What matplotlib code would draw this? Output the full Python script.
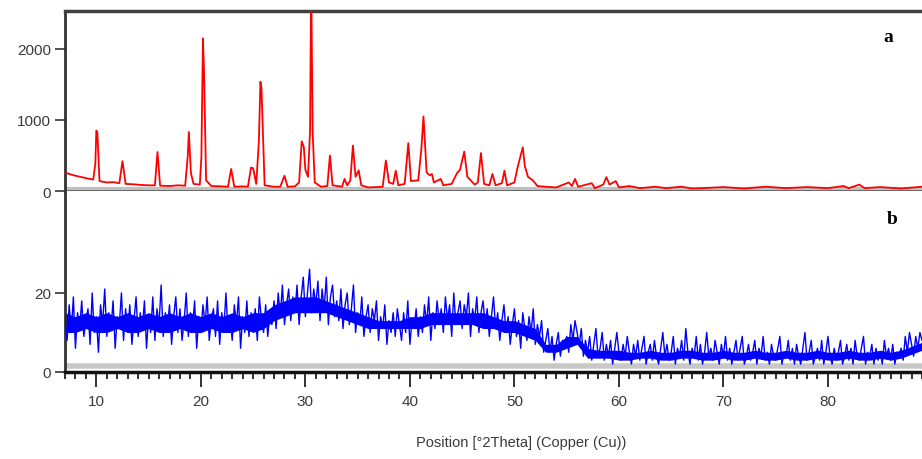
# Difractogramas XRD: (a) muestra cristalina, (b) muestra amorfa.
import numpy as np
import matplotlib; matplotlib.use("Agg")
import matplotlib.pyplot as plt

plt.rcParams["font.family"] = ["Liberation Sans", "DejaVu Sans"]

tt_a = [7.0, 7.5, 8.0, 8.6, 9.2, 9.7, 9.9, 10.0, 10.1, 10.3, 11.0, 11.6, 12.2, 12.5, 12.8,
        13.5, 14.3, 15.0, 15.6, 15.85, 16.1, 17.0, 17.8, 18.5, 18.75, 18.85, 19.05, 19.3,
        19.9, 20.05, 20.2, 20.3, 20.5, 21.0, 22.0, 22.6, 22.9, 23.2, 24.0, 24.5, 24.8, 25.0,
        25.3, 25.55, 25.7, 25.8, 26.1, 27.0, 27.6, 28.0, 28.3, 29.0, 29.4, 29.65, 29.85,
        30.0, 30.25, 30.45, 30.55, 30.7, 30.9, 31.5, 32.1, 32.35, 32.6, 33.5, 33.75, 34.0,
        34.3, 34.55, 34.8, 35.1, 35.35, 36.0, 37.4, 37.7, 38.0, 38.4, 38.65, 38.9, 39.5,
        39.85, 40.1, 40.8, 41.1, 41.3, 41.6, 41.9, 42.1, 42.3, 42.95, 43.2, 44.0, 44.5,
        44.8, 45.2, 45.5, 46.2, 46.5, 46.8, 47.1, 47.6, 47.9, 48.2, 48.8, 49.05, 49.3,
        50.0, 50.3, 50.8, 51.0, 51.3, 51.8, 52.2, 53.0, 54.0, 55.2, 55.5, 55.8, 56.1,
        57.4, 57.7, 58.5, 58.8, 59.1, 59.7, 60.0, 61.0, 62.0, 63.5, 64.5, 66.0, 67.0,
        68.0, 70.0, 72.0, 74.0, 76.0, 78.0, 80.0, 81.5, 82.0, 83.0, 83.5, 85.0, 87.0, 89.0]
cts_a = [260, 235, 215, 195, 175, 160, 380, 850, 820, 140, 120, 125, 110, 420, 100,
         95, 85, 80, 80, 550, 75, 70, 80, 75, 500, 830, 250, 100,
         90, 480, 2150, 1700, 150, 70, 65, 60, 310, 60, 65, 60, 330, 320,
         100, 700, 1540, 1450, 80, 60, 60, 215, 60, 65, 120, 700, 620,
         300, 200, 850, 3000, 800, 120, 60, 70, 500, 80, 60, 170, 80,
         150, 640, 200, 290, 80, 50, 60, 430, 120, 100, 285, 80, 100,
         675, 140, 150, 600, 1050, 260, 220, 240, 120, 170, 80, 100, 250,
         300, 555, 200, 90, 120, 535, 100, 80, 240, 80, 110, 285, 80,
         120, 330, 615, 350, 200, 145, 70, 60, 50, 120, 70, 170, 60,
         110, 40, 90, 195, 90, 140, 50, 70, 40, 60, 40, 60, 35,
         40, 55, 35, 60, 40, 55, 40, 70, 40, 90, 40, 55, 35, 60]

# --- (b) cuentas del patron azul, paso 0.2 grados desde 7 hasta 89
cts_b = [14, 8, 17, 10, 19, 6, 15, 11, 18, 9,
         13, 16, 7, 20, 10, 14, 5, 17, 12, 21,
         9, 15, 11, 18, 6, 14, 12, 20, 8, 16,
         10, 17, 7, 13, 19, 9, 15, 11, 18, 6,
         14, 10, 19, 8, 16, 12, 22, 9, 15, 11,
         17, 7, 14, 19, 10, 16, 8, 13, 20, 9,
         15, 11, 18, 6, 14, 10, 17, 12, 19, 8,
         13, 16, 9, 18, 7, 15, 11, 20, 10, 14,
         8, 17, 12, 19, 6, 14, 10, 18, 9, 15,
         11, 16, 8, 19, 13, 10, 17, 9, 15, 12,
         18, 11, 20, 14, 22, 12, 17, 21, 13, 19,
         15, 22, 12, 19, 24, 14, 20, 26, 15, 21,
         17, 23, 13, 21, 16, 24, 12, 19, 22, 14,
         18, 13, 21, 11, 17, 20, 12, 16, 22, 10,
         15, 12, 19, 9, 14, 17, 10, 16, 13, 18,
         8, 14, 11, 17, 7, 13, 10, 15, 9, 16,
         12, 8, 15, 10, 18, 7, 13, 11, 16, 9,
         14, 10, 17, 12, 19, 8, 15, 11, 18, 13,
         16, 10, 19, 13, 17, 9, 20, 12, 15, 18,
         11, 17, 14, 20, 9, 16, 13, 19, 10, 15,
         18, 12, 16, 9, 14, 19, 11, 15, 8, 13,
         17, 10, 14, 7, 12, 16, 9, 13, 6, 15,
         11, 8, 14, 10, 16, 7, 12, 9, 13, 5,
         8, 11, 5, 9, 3, 7, 10, 4, 8, 6,
         9, 5, 12, 8, 13, 10, 7, 11, 4, 8,
         5, 9, 3, 7, 11, 4, 6, 10, 3, 7,
         4, 8, 2, 6, 10, 5, 3, 7, 4, 9,
         5, 2, 7, 4, 8, 3, 6, 9, 2, 5,
         7, 3, 8, 4, 2, 6, 10, 4, 7, 3,
         5, 9, 2, 6, 4, 8, 3, 11, 5, 2,
         6, 4, 9, 3, 7, 2, 5, 10, 4, 6,
         3, 8, 5, 2, 7, 4, 9, 3, 6, 2,
         5, 8, 3, 6, 9, 2, 4, 7, 3, 5,
         8, 2, 6, 4, 9, 3, 5, 2, 7, 4,
         3, 6, 9, 2, 5, 4, 8, 3, 6, 2,
         7, 4, 2, 6, 10, 3, 5, 8, 2, 4,
         6, 3, 8, 2, 5, 9, 4, 2, 6, 3,
         5, 8, 2, 4, 7, 3, 6, 2, 8, 4,
         3, 6, 9, 2, 5, 4, 7, 2, 6, 3,
         5, 2, 8, 4, 6, 3, 7, 2, 5, 4,
         6, 3, 9, 5, 10, 7, 4, 9, 6, 10,
         8]
tt_b = np.linspace(7, 89, len(cts_b))

# nucleo denso del ruido azul, un valor por grado (7..89)
core_lo = [10, 10, 11, 10, 10, 11, 10, 10, 11, 10, 10, 11, 10, 10, 11, 10, 10, 11, 10, 11,
           13, 14, 15, 15, 15, 15, 14, 13,
           12, 11, 11, 11, 11, 11, 11, 12, 12, 12, 12, 12,
           11, 11, 10, 10, 9, 8,
           5, 5, 6, 7,
           3.5, 3.5, 3.5, 3, 3, 3.5, 3.5, 3, 3, 3.5, 3.5, 3, 3, 3.5, 3, 3, 3.5, 3, 3, 3.5,
           3, 3, 3.5, 3, 3, 3.5, 3, 3, 3.5, 3, 3.5, 4.5, 5.5]
core_hi = [15, 14, 15, 14, 15, 14, 15, 14, 15, 14, 15, 14, 15, 14, 15, 14, 15, 14, 15, 15,
           17, 18, 19, 19, 19, 18, 17, 16,
           15, 14, 13, 13, 13, 14, 14, 15, 15, 15, 15, 15,
           15, 14, 13, 13, 12, 11,
           7, 7, 9, 9,
           6, 5.5, 5.5, 5.5, 5, 5, 5.5, 5, 5, 5.5, 5.5, 5, 5, 5.5, 5, 5, 5.5, 5, 5, 5.5,
           5, 5, 5.5, 5, 5, 5.5, 5, 5, 5.5, 5, 5.5, 6.5, 7.5]
tt_core = np.arange(7, 90)

XMIN, XMAX = 7, 89
TXT = "#3a3a3a"

fig = plt.figure(figsize=(9.22, 4.60), dpi=100)
W, H = 922, 460
L = 65 / W
ax1 = fig.add_axes([L, 1 - 192 / H, 1 - L, (192 - 12) / H])
ax2 = fig.add_axes([L, 1 - 373 / H, 1 - L, (373 - 192) / H], sharex=ax1)

ax1.axhline(25, color="#c0c0c0", lw=3, zorder=1)
ax1.plot(tt_a, cts_a, color="#ff0000", lw=1.3, zorder=3)
ax1.set_ylim(0, 2535)
ax1.set_yticks([0, 1000, 2000])

ax2.axhline(1.6, color="#c8c8c8", lw=4, zorder=1)
ax2.fill_between(tt_core, core_lo, core_hi, color="#0000ff", lw=0, zorder=2)
ax2.plot(tt_b, cts_b, color="#0000ff", lw=1.0, zorder=3)
ax2.set_ylim(0, 45.8)
ax2.set_yticks([0, 20])
ax2.set_xlim(XMIN, XMAX)

for ax in (ax1, ax2):
    ax.spines["right"].set_visible(False)
    ax.spines["left"].set_color("#333333"); ax.spines["left"].set_linewidth(2)
    ax.tick_params(axis="y", direction="out", length=7, width=1.2, color="#333333",
                   labelsize=11, labelcolor=TXT, pad=3)
ax1.spines["top"].set_color("#404040"); ax1.spines["top"].set_linewidth(2.5)
ax1.spines["bottom"].set_color("#606060"); ax1.spines["bottom"].set_linewidth(2)
ax2.spines["top"].set_visible(False)
ax2.spines["bottom"].set_color("#111111"); ax2.spines["bottom"].set_linewidth(2.5)
ax1.tick_params(axis="x", bottom=False, labelbottom=False)

ax2.set_xticks(np.arange(10, 90, 10))
ax2.set_xticks(np.arange(XMIN, XMAX + 1, 1), minor=True)
ax2.tick_params(axis="x", which="major", direction="out", length=11, width=1.3,
                color="#222222", labelsize=11, labelcolor=TXT, pad=5)
ax2.tick_params(axis="x", which="minor", direction="out", length=5, width=1.3,
                color="#222222")

ax2.set_xlabel("Position [°2Theta] (Copper (Cu))", fontsize=10.5, color=TXT)
ax2.xaxis.set_label_coords((521 - 65) / (W - 65), -0.35)

fig.text(888 / W, 1 - 37 / H, "a", ha="center", va="center",
         fontsize=14, fontweight="bold", family="Liberation Serif", color="black")
fig.text(892 / W, 1 - 220 / H, "b", ha="center", va="center",
         fontsize=14, fontweight="bold", family="Liberation Serif", color="black")

fig.savefig("out.png", dpi=100, facecolor="white")
